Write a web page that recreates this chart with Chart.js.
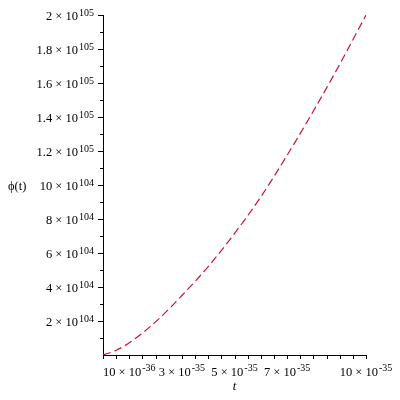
<!DOCTYPE html>
<html>
<head>
<meta charset="utf-8">
<script src="https://cdn.jsdelivr.net/npm/chart.js@4"></script>
<style>
  html, body { margin: 0; padding: 0; background: #fff; }
  #wrap { width: 400px; height: 400px; }
</style>
</head>
<body>
<div id="wrap"><canvas id="phiChart"></canvas></div>
<script>
// datos (t en segundos, phi en unidades absolutas)
const tValores = [0, 0.5e-35, 1e-35, 2e-35, 3e-35, 4e-35, 5e-35, 6e-35, 7e-35, 8e-35, 9e-35, 10e-35];
const phiValores = [0, 0.28e104, 0.72e104, 1.95e104, 3.5e104, 5.2e104, 7.15e104, 9.3e104, 11.75e104, 14.35e104, 17.1e104, 20.0e104];

// etiquetas de los ejes (mantisa y exponente)
const xTickValores = [1e-35, 3e-35, 5e-35, 7e-35, 10e-35];
const xTickMantisa = ['10', '3', '5', '7', '10'];
const xTickExponente = ['-36', '-35', '-35', '-35', '-35'];

const yTickValores = [2e104, 4e104, 6e104, 8e104, 10e104, 12e104, 14e104, 16e104, 18e104, 20e104];
const yTickMantisa = ['2', '4', '6', '8', '10', '1.2', '1.4', '1.6', '1.8', '2'];
const yTickExponente = ['104', '104', '104', '104', '104', '105', '105', '105', '105', '105'];

const fuente = '"Liberation Serif", "DejaVu Serif", serif';

// dibuja marcas y etiquetas tipo Maple (con superindices)
const ejesMaple = {
  id: 'ejesMaple',
  afterDraw(chart) {
    const ctx = chart.ctx;
    const xs = chart.scales.x, ys = chart.scales.y;
    const x0 = xs.left, y0 = ys.bottom;
    ctx.save();
    ctx.strokeStyle = '#000';
    ctx.lineWidth = 1;
    // marcas eje x cada 5e-36
    for (let i = 0; i <= 20; i++) {
      const px = Math.round(xs.getPixelForValue(i * 5e-36)) + 0.5;
      ctx.beginPath(); ctx.moveTo(px, y0); ctx.lineTo(px, y0 + 4); ctx.stroke();
    }
    // marcas eje y cada 1e104
    for (let i = 1; i <= 20; i++) {
      const py = Math.round(ys.getPixelForValue(i * 1e104)) + 0.5;
      const largo = i % 2 === 0 ? 5 : 3;
      ctx.beginPath(); ctx.moveTo(x0, py); ctx.lineTo(x0 - largo, py); ctx.stroke();
    }

    ctx.fillStyle = '#000';
    ctx.textBaseline = 'alphabetic';
    ctx.textAlign = 'left';
    const fMain = '12.5px ' + fuente, fSup = '10px ' + fuente;

    xTickValores.forEach((v, i) => {
      const main = xTickMantisa[i] + ' \u00d7 10', sup = xTickExponente[i];
      ctx.font = fMain; const wm = ctx.measureText(main).width;
      ctx.font = fSup; const ws = ctx.measureText(sup).width;
      const cx = xs.getPixelForValue(v);
      const inicio = cx - (wm + ws + 1) / 2;
      ctx.font = fMain; ctx.fillText(main, inicio, 376);
      ctx.font = fSup; ctx.fillText(sup, inicio + wm + 1, 371);
    });

    yTickValores.forEach((v, i) => {
      const main = yTickMantisa[i] + ' \u00d7 10', sup = yTickExponente[i];
      ctx.font = fMain; const wm = ctx.measureText(main).width;
      ctx.font = fSup; const ws = ctx.measureText(sup).width;
      const py = ys.getPixelForValue(v);
      const fin = x0 - 9;
      ctx.font = fSup; ctx.fillText(sup, fin - ws, py + 1);
      ctx.font = fMain; ctx.fillText(main, fin - ws - 1 - wm, py + 5);
    });

    // titulos
    ctx.font = 'italic 12.5px ' + fuente;
    ctx.textAlign = 'center';
    ctx.fillText('t', (xs.left + xs.right) / 2, 390);
    ctx.font = '12.5px ' + fuente;
    ctx.textAlign = 'left';
    ctx.fillText('\u03d5(t)', 8, 190);
    ctx.restore();
  }
};

const puntos = tValores.map((t, i) => ({ x: t, y: phiValores[i] }));

new Chart(document.getElementById('phiChart'), {
  type: 'scatter',
  data: {
    datasets: [{
      data: puntos,
      showLine: true,
      borderColor: '#c8143c',
      borderWidth: 1.2,
      borderDash: [8, 4],
      pointRadius: 0,
      cubicInterpolationMode: 'monotone',
      fill: false
    }]
  },
  options: {
    responsive: true,
    maintainAspectRatio: false,
    animation: false,
    layout: { padding: { top: 15, right: 34, left: 0, bottom: 0 } },
    plugins: { legend: { display: false }, tooltip: { enabled: false } },
    scales: {
      x: {
        type: 'linear', min: 0, max: 1e-34,
        grid: { display: false },
        border: { display: true, color: '#000', width: 1 },
        ticks: { display: false },
        afterFit(scale) { scale.height = 45; }
      },
      y: {
        type: 'linear', min: 0, max: 2e105,
        grid: { display: false },
        border: { display: true, color: '#000', width: 1 },
        ticks: { display: false },
        afterFit(scale) { scale.width = 103; }
      }
    }
  },
  plugins: [ejesMaple]
});
</script>
</body>
</html>
